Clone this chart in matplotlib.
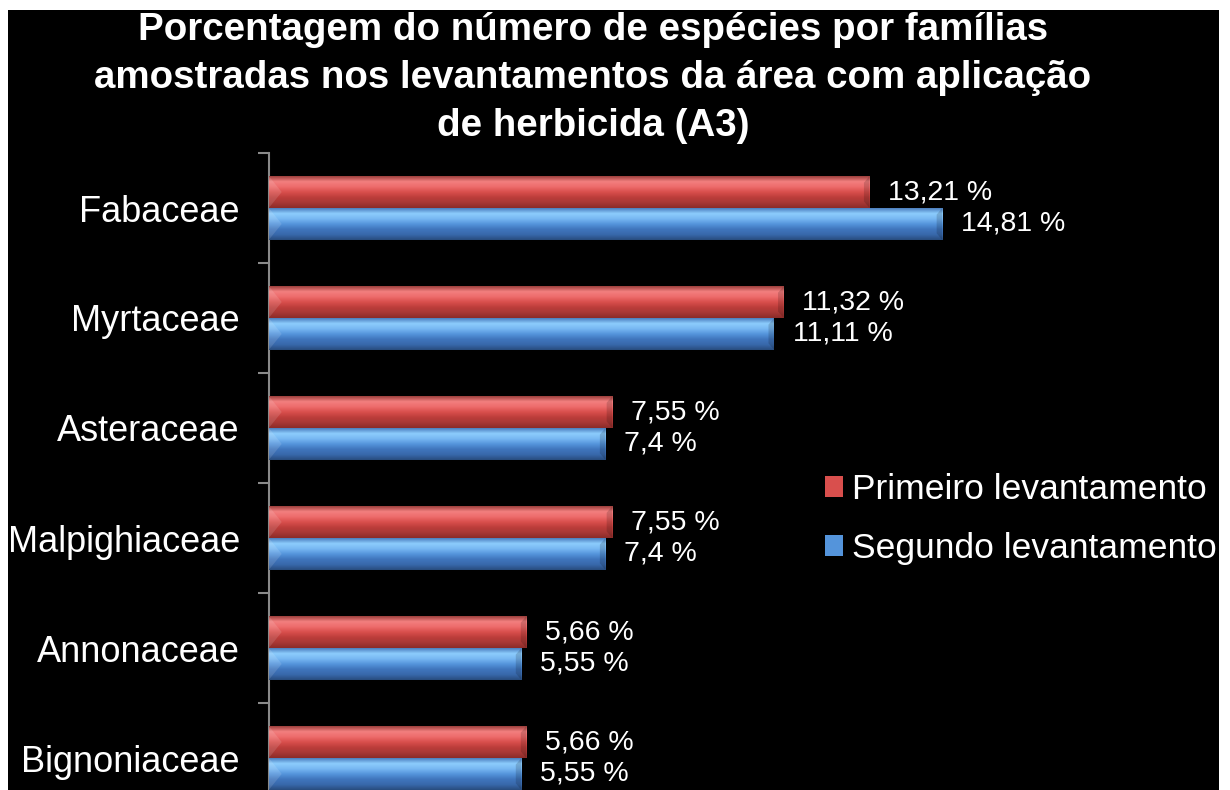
import matplotlib
matplotlib.use("Agg")
import matplotlib.pyplot as plt
from matplotlib import font_manager
from matplotlib.patches import Rectangle, Polygon, Patch
import numpy as np

categories = ["Fabaceae", "Myrtaceae", "Asteraceae", "Malpighiaceae", "Annonaceae", "Bignoniaceae"]
primeiro = [13.21, 11.32, 7.55, 7.55, 5.66, 5.66]
segundo = [14.81, 11.11, 7.4, 7.4, 5.55, 5.55]
series_names = ["Primeiro levantamento", "Segundo levantamento"]
title = "Porcentagem do número de espécies por famílias\namostradas nos levantamentos da área com aplicação\nde herbicida (A3)"

def has_font(name):
    try:
        font_manager.findfont(font_manager.FontProperties(family=name), fallback_to_default=False)
        return True
    except Exception:
        return False

base_font = "Liberation Sans" if has_font("Liberation Sans") else "DejaVu Sans"
plt.rcParams["font.family"] = [base_font, "DejaVu Sans"]

W, H = 1230, 790
fig = plt.figure(figsize=(W / 100, H / 100), dpi=100, facecolor="white")
fig.patches.append(Rectangle((8 / W, 0), (1219 - 8) / W, 780 / H, transform=fig.transFigure,
                             facecolor="black", edgecolor="none", zorder=-10))

ax_left, ax_width = 269 / W, 900 / W
ax_top = 1 - 153 / H
ax_bottom = 1 - 813 / H
ax = fig.add_axes([ax_left, ax_bottom, ax_width, ax_top - ax_bottom])
ax.set_facecolor("none")

n = len(categories)
ypos = np.arange(n)[::-1].astype(float)
bh = 0.285
off = 0.145

red_grad = np.array([[0.62, 0.25, 0.24], [0.95, 0.50, 0.50], [0.93, 0.42, 0.42], [0.85, 0.31, 0.30],
                     [0.74, 0.24, 0.23], [0.66, 0.22, 0.21], [0.55, 0.17, 0.16]])
blue_grad = np.array([[0.30, 0.50, 0.75], [0.55, 0.80, 0.99], [0.47, 0.72, 0.95], [0.33, 0.58, 0.86],
                      [0.25, 0.46, 0.74], [0.22, 0.41, 0.67], [0.16, 0.30, 0.50]])

def grad_img(stops, nrows=60):
    t = np.linspace(0, 1, len(stops))
    tt = np.linspace(0, 1, nrows)
    img = np.stack([np.interp(tt, t, stops[:, c]) for c in range(3)], axis=-1)
    return img[:, None, :]

xmax = 900 / 45.45
for vals, dy, stops, name in [(primeiro, off, red_grad, series_names[0]),
                              (segundo, -off, blue_grad, series_names[1])]:
    bars = ax.barh(ypos + dy, vals, height=bh, color=stops[3], edgecolor="none", zorder=2)
    img = grad_img(stops)
    for b, v in zip(bars, vals):
        x0, y0 = b.get_x(), b.get_y()
        w, h = b.get_width(), b.get_height()
        im = ax.imshow(img, extent=[x0, x0 + w, y0, y0 + h], aspect="auto", origin="upper",
                       zorder=3, interpolation="bilinear")
        im.set_clip_path(b)
        d = 0.28
        ax.add_patch(Polygon([[x0, y0 + h], [x0 + d, y0 + h / 2], [x0, y0]], closed=True,
                             facecolor="white", alpha=0.12, edgecolor="none", zorder=4))
        ax.add_patch(Polygon([[x0 + w, y0 + h], [x0 + w - 0.12, y0 + h * 0.8], [x0 + w - 0.12, y0 + h * 0.2], [x0 + w, y0]],
                             closed=True, facecolor="black", alpha=0.15, edgecolor="none", zorder=4))
        lbl = f"{v:g}".replace(".", ",") + " %"
        ax.annotate(lbl, (x0 + w, y0 + h / 2), xytext=(19, 0), textcoords="offset pixels",
                    ha="left", va="center", color="white", fontsize=20.5, zorder=5)

ax.set_xlim(0, xmax)
ax.set_ylim(-0.5, n - 0.5)
ax.set_xticks([])
ax.set_yticks(ypos)
ax.set_yticklabels(categories, fontsize=26, color="white")
ax.tick_params(axis="y", which="major", length=0, pad=21)
ax.set_yticks(np.arange(-0.5, n, 1.0), minor=True)
ax.tick_params(axis="y", which="minor", length=8, width=1.5, color="#8a8a8a", direction="out")
for s in ["top", "right", "bottom"]:
    ax.spines[s].set_visible(False)
ax.spines["left"].set_color("#8a8a8a")
ax.spines["left"].set_linewidth(1.5)

handles = [Patch(facecolor=red_grad[3], edgecolor="none"), Patch(facecolor=blue_grad[3], edgecolor="none")]
leg = fig.legend(handles, series_names, loc="center left", bbox_to_anchor=(825 / W, 1 - 519 / H),
                 frameon=False, fontsize=25.5, labelcolor="white", handlelength=0.52, handleheight=0.52,
                 handletextpad=0.25, labelspacing=0.74, borderaxespad=0, borderpad=0)

fig.text(593 / W, 1 - 78 / H, title, ha="center", va="center", multialignment="center",
         color="white", fontsize=27.7, fontweight="bold", linespacing=1.43)

fig.savefig("out.png", dpi=100, facecolor="white")
